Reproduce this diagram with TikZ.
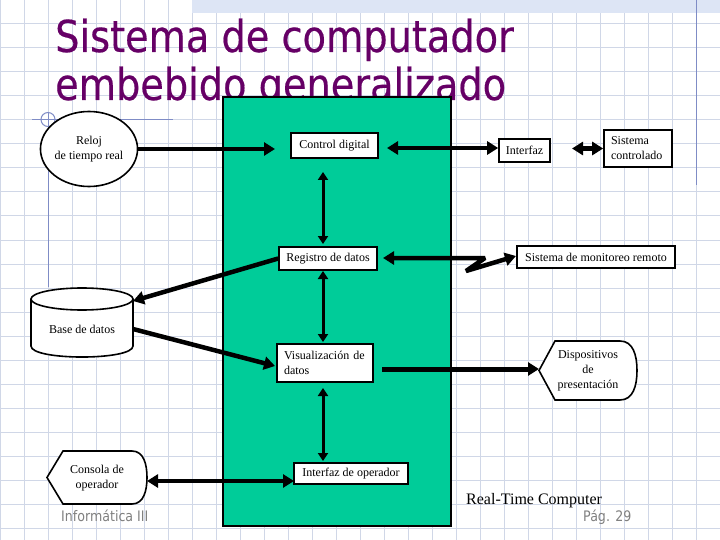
\documentclass[tikz,border=0pt]{standalone}
\usepackage{fontspec}
\setmainfont{Liberation Serif}
\newfontfamily\titlefont[FakeStretch=0.87,FakeBold=0.4]{DejaVu Sans}
\newfontfamily\footfont[FakeStretch=0.87]{DejaVu Sans}
\usetikzlibrary{arrows.meta,shapes.geometric}
\definecolor{gridc}{HTML}{D0D7E7}
\definecolor{bandc}{HTML}{DDE5F5}
\definecolor{decoc}{HTML}{7F8CC6}
\definecolor{titlec}{HTML}{660066}
\definecolor{greenc}{HTML}{00CC99}
\definecolor{footc}{HTML}{808080}
\tikzset{
  box/.style={draw, fill=white, line width=1.6pt, inner sep=0pt, font=\fontsize{12}{15}\selectfont},
  lbl/.style={inner sep=0pt, font=\fontsize{12}{15}\selectfont},
  shapeline/.style={draw, fill=white, line width=1.6pt},
  thk/.style={line width=4.5pt, >={Triangle[length=11pt,width=13pt]}},
  thn/.style={line width=3pt, >={Triangle[length=8pt,width=10pt]}},
  titletext/.style={anchor=base west, inner sep=0pt, text=titlec, font=\titlefont\fontsize{44}{48}\selectfont},
  foot/.style={anchor=base west, inner sep=0pt, text=footc, font=\footfont\fontsize{14.5}{16}\selectfont}
}
\begin{document}
\begin{tikzpicture}[x=1pt,y=-1pt]
\useasboundingbox (0,0) rectangle (720,540);
\fill[white] (0,0) rectangle (720,540);
% grid
\foreach \i in {0,...,30} \draw[gridc, line width=1pt] (24*\i,0) -- (24*\i,540);
\foreach \j in {0,...,22} \draw[gridc, line width=1pt] (0,24*\j) -- (720,24*\j);
% decorations
\fill[bandc] (192,0) rectangle (720,13);
\draw[decoc, line width=1.3pt] (696.5,0) -- (696.5,185);
\draw[decoc, line width=1pt] (32,119.5) -- (173,119.5);
\draw[decoc, line width=1pt] (48,112) -- (48,287);
\draw[decoc, line width=1pt] (48,119.5) circle[radius=7pt];
% title
\node[titletext] (t1) at (55,52) {Sistema de computador};
\node[titletext] (t2) at (55,100) {embebido generalizado};
% computer block
\draw[fill=greenc, line width=2pt] (223,97) rectangle (451,526);
% nodes
\node[box, ellipse, minimum width=82pt, minimum height=75pt, align=center] (reloj) at (89,149) {Reloj\\de tiempo real};
\node[box, minimum width=87pt, minimum height=25pt] (cd) at (334.5,145.5) {Control digital};
\node[box, minimum width=51pt, minimum height=23pt] (intf) at (524.5,150.5) {Interfaz};
\node[box, minimum width=68pt, minimum height=37pt, text width=54pt, align=left] (sc) at (638,148.5) {Sistema\\controlado};
\node[box, minimum width=98pt, minimum height=23pt] (reg) at (328,258.5) {Registro de datos};
\node[box, minimum width=158pt, minimum height=22pt] (smr) at (596,257) {Sistema de monitoreo remoto};
\node[box, minimum width=96pt, minimum height=38pt, text width=82pt, align=left] (vis) at (325,363) {Visualización de\\datos};
\node[box, minimum width=114pt, minimum height=21pt] (io) at (351,473.5) {Interfaz de operador};
% display shape: Dispositivos
\draw[shapeline] (539,370.5) -- (555,341) -- (620,341) .. controls (633,341) and (637,355) .. (637,370.5) .. controls (637,386) and (633,400) .. (620,400) -- (555,400) -- cycle;
\node[lbl, align=center] (disp) at (588,370.5) {Dispositivos\\de\\presentación};
% display shape: Consola
\draw[shapeline] (47,477.5) -- (63,451) -- (132,451) .. controls (144,451) and (147,465) .. (147,477.5) .. controls (147,490) and (144,504) .. (132,504) -- (63,504) -- cycle;
\node[lbl, align=center] (cons) at (97,478) {Consola de\\operador};
% cylinder: Base de datos
\draw[shapeline] (31,299) -- (31,346) .. controls (31,360.7) and (133,360.7) .. (133,346) -- (133,299);
\draw[shapeline] (82,299) ellipse[x radius=51pt, y radius=11pt];
\node[lbl] (base) at (82,329) {Base de datos};
% connector end points
\coordinate (relojEnd) at (275,149);
\coordinate (cdR) at (387,148);
\coordinate (intfR) at (572,148.5);
\coordinate (cdB) at (323,172);
\coordinate (regT) at (323,244);
\coordinate (regR) at (383,258);
\coordinate (zz1) at (485,258);
\coordinate (zz2) at (466,271);
\coordinate (smrL) at (516,256);
\coordinate (baseTR) at (133,301);
\coordinate (baseR) at (133,329);
\coordinate (visL) at (275,366);
\coordinate (regB) at (323,271);
\coordinate (visT) at (323,342);
\coordinate (visB) at (323,388);
\coordinate (ioT) at (323,461);
\coordinate (visR) at (382,369);
\coordinate (dispL) at (539,369);
\coordinate (consR) at (147,481);
\coordinate (ioL) at (294,481);
% connectors
\draw[thk,->] (reloj.east) -- (relojEnd);
\draw[thk,<->] (cdR) -- (intf.west |- cdR);
\draw[thk,<->] (intfR) -- (sc.west);
\draw[thn,<->] (cdB) -- (regT);
\draw[thk,<->, line join=bevel] (regR) -- (zz1) -- (zz2) -- (smrL);
\draw[thk,->] (reg.west) -- (baseTR);
\draw[thk,->] (baseR) -- (visL);
\draw[thn,<->] (regB) -- (visT);
\draw[thn,<->] (visB) -- (ioT);
\draw[thk,->, line width=5pt] (visR) -- (dispL);
\draw[thk,<->] (consR) -- (ioL);
% footer
\node[anchor=base west, inner sep=0pt, font=\fontsize{16}{18}\selectfont] (rtc) at (466,504) {Real-Time Computer};
\node[foot] (inf) at (61,521) {Informática III};
\node[foot] (pag) at (583,521) {Pág. 29};
\end{tikzpicture}
\end{document}
